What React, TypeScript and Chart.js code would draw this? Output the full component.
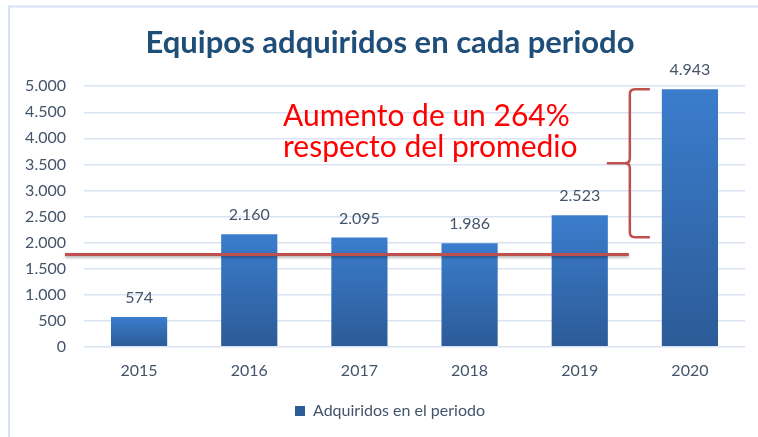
import React, { useEffect, useRef } from "react";
import { Chart, registerables } from "chart.js";

Chart.register(...registerables);

// ---- data ----
const categories = ["2015", "2016", "2017", "2018", "2019", "2020"];
const seriesLabel = "Adquiridos en el periodo";
const adquiridos = [574, 2160, 2095, 1986, 2523, 4943];
const yMin = 0;
const yMax = 5000;
const yStep = 500;
const promedioLinea = 1770; // red reference line
const llaveDesde = 2100; // bracket bottom value
const llaveHasta = 4943; // bracket top value
const titleText = "Equipos adquiridos en cada periodo";
const annotationLines = ["Aumento de un 264%", "respecto del promedio"];

const FONT = "Lato, 'Open Sans', sans-serif";
const LABEL_COLOR = "#44546A";

function fmt(n: number): string {
  return String(Math.round(n)).replace(/\B(?=(\d{3})+(?!\d))/g, ".");
}

const framePlugin = {
  id: "frame",
  beforeDraw(chart: any) {
    const { ctx, width, height } = chart;
    ctx.save();
    ctx.fillStyle = "#FFFFFF";
    ctx.fillRect(0, 0, width, height);
    ctx.strokeStyle = "#D6E2F4";
    ctx.lineWidth = 2;
    ctx.strokeRect(9, 6.5, width + 20, height + 20);
    ctx.restore();
  },
};

const annotationPlugin = {
  id: "annotations",
  afterDatasetsDraw(chart: any) {
    const { ctx, chartArea } = chart;
    const xs = chart.scales.x;
    const ys = chart.scales.y;

    // data labels
    const meta = chart.getDatasetMeta(0);
    ctx.save();
    ctx.font = `16px ${FONT}`;
    ctx.fillStyle = LABEL_COLOR;
    ctx.textAlign = "center";
    ctx.textBaseline = "middle";
    meta.data.forEach((bar: any, i: number) => {
      ctx.fillText(fmt(adquiridos[i]), bar.x, bar.y - 19);
    });
    ctx.restore();

    // red average line
    const yLine = ys.getPixelForValue(promedioLinea);
    const xEnd = xs.getPixelForValue(4.5) - 6;
    ctx.save();
    ctx.strokeStyle = "#C0504D";
    ctx.lineWidth = 3;
    ctx.shadowColor = "rgba(0,0,0,0.35)";
    ctx.shadowBlur = 3;
    ctx.shadowOffsetY = 1.5;
    ctx.beginPath();
    ctx.moveTo(chartArea.left - 19, yLine);
    ctx.lineTo(xEnd, yLine);
    ctx.stroke();
    ctx.restore();

    // bracket
    const x0 = xs.getPixelForValue(4.5) - 5;
    const yTop = ys.getPixelForValue(llaveHasta);
    const yBot = ys.getPixelForValue(llaveDesde);
    const yMid = (yTop + yBot) / 2;
    ctx.save();
    ctx.strokeStyle = "#C0504D";
    ctx.lineWidth = 2.5;
    ctx.lineJoin = "round";
    ctx.lineCap = "round";
    ctx.beginPath();
    ctx.moveTo(x0 + 19, yTop);
    ctx.lineTo(x0 + 5, yTop);
    ctx.quadraticCurveTo(x0, yTop, x0, yTop + 5);
    ctx.lineTo(x0, yMid - 5);
    ctx.quadraticCurveTo(x0, yMid, x0 - 5, yMid);
    ctx.lineTo(x0 - 22, yMid);
    ctx.moveTo(x0 - 5, yMid);
    ctx.quadraticCurveTo(x0, yMid, x0, yMid + 5);
    ctx.lineTo(x0, yBot - 5);
    ctx.quadraticCurveTo(x0, yBot, x0 + 5, yBot);
    ctx.lineTo(x0 + 19, yBot);
    ctx.stroke();
    ctx.restore();

    // annotation text
    ctx.save();
    ctx.font = `30px ${FONT}`;
    ctx.fillStyle = "#FF0000";
    ctx.textAlign = "left";
    ctx.textBaseline = "alphabetic";
    ctx.fillText(annotationLines[0], chartArea.left + 199, chartArea.top + 40);
    ctx.fillText(annotationLines[1], chartArea.left + 199, chartArea.top + 71);
    ctx.restore();
  },
};

export default function App() {
  const canvasRef = useRef<HTMLCanvasElement | null>(null);

  useEffect(() => {
    const canvas = canvasRef.current;
    if (!canvas) return;
    const chart = new Chart(canvas, {
      type: "bar",
      data: {
        labels: categories,
        datasets: [
          {
            label: seriesLabel,
            data: adquiridos,
            backgroundColor: (c: any) => {
              const ch = c.chart;
              if (!ch.chartArea || c.type !== "data") return "#3A72BC";
              const y = ch.scales.y;
              const top = y.getPixelForValue(c.raw);
              const bottom = y.getPixelForValue(0);
              const g = ch.ctx.createLinearGradient(0, top, 0, bottom);
              g.addColorStop(0, "#3B7DCD");
              g.addColorStop(1, "#2C5B97");
              return g;
            },
            borderWidth: 0,
            categoryPercentage: 1,
            barPercentage: 0.51,
          },
        ],
      },
      options: {
        responsive: false,
        animation: false,
        devicePixelRatio: 1,
        layout: { padding: { left: 22, right: 0, top: 0, bottom: 8 } },
        plugins: {
          title: {
            display: true,
            text: titleText,
            color: "#1F4E79",
            font: { family: FONT, size: 31, weight: "bold", lineHeight: 1.2 },
            padding: { top: 24.5, bottom: 24.5 },
          },
          legend: {
            display: true,
            position: "bottom",
            labels: {
              color: LABEL_COLOR,
              font: { family: FONT, size: 16 },
              boxWidth: 10,
              boxHeight: 10,
              padding: 9,
            },
          },
          tooltip: { enabled: false },
        },
        scales: {
          x: {
            grid: { display: false, drawTicks: false },
            border: { display: false },
            ticks: {
              color: LABEL_COLOR,
              font: { family: FONT, size: 16 },
              padding: 14,
            },
          },
          y: {
            min: yMin,
            max: yMax,
            afterFit: (s: any) => {
              s.width = 62;
            },
            ticks: {
              stepSize: yStep,
              color: LABEL_COLOR,
              font: { family: FONT, size: 16 },
              padding: 18,
              callback: (v: any) => fmt(Number(v)),
            },
            grid: { color: "#D9E3F3", lineWidth: 1.5, drawTicks: false },
            border: { display: false },
          },
          yRight: {
            position: "right",
            min: yMin,
            max: yMax,
            display: true,
            grid: { display: false, drawTicks: false },
            border: { display: false },
            ticks: { display: false },
            afterFit: (s: any) => {
              s.width = 13;
            },
          },
        },
      },
      plugins: [framePlugin, annotationPlugin],
    });
    return () => chart.destroy();
  }, []);

  return (
    <div style={{ position: "absolute", left: 0, top: 0, width: 758, height: 437 }}>
      <canvas ref={canvasRef} width={758} height={437} />
    </div>
  );
}
